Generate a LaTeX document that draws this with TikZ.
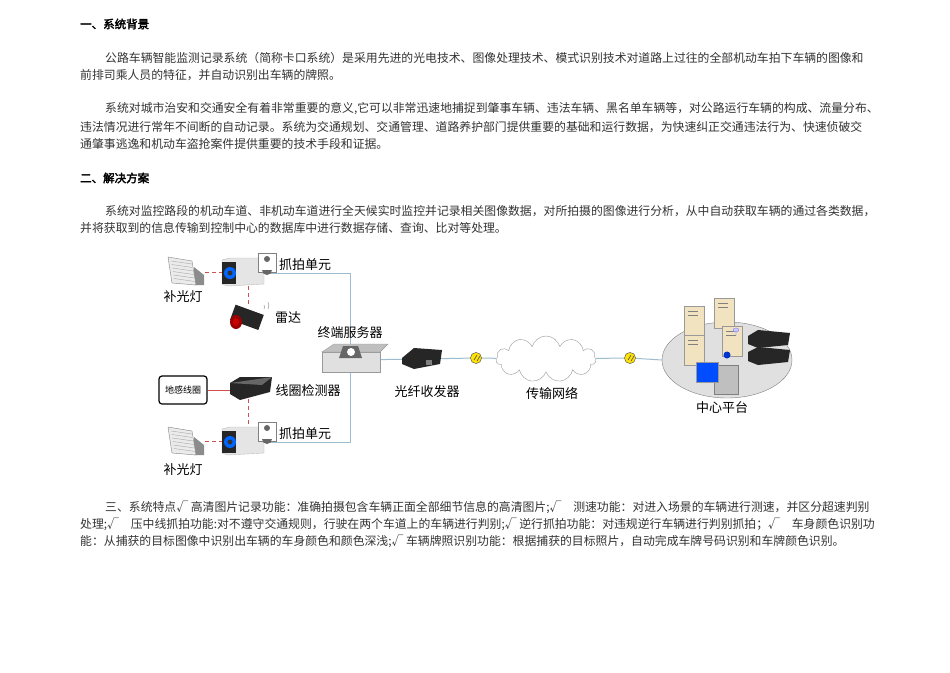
\documentclass[tikz,border=0pt]{standalone}
\usepackage{fontspec}
\setmainfont{Liberation Sans}
\newfontfamily\cjk[AutoFakeBold=2.5]{Noto Sans CJK SC}
\usetikzlibrary{shapes.symbols,shapes.geometric}
\definecolor{txt}{HTML}{333333}
\definecolor{wire}{HTML}{9DBCD0}
\definecolor{rdash}{HTML}{D05050}
\begin{document}
\begin{tikzpicture}[x=1pt,y=-1pt,
  para/.style={anchor=west,inner sep=0pt,font=\cjk\fontsize{11.85}{13}\selectfont,text=txt},
  head/.style={anchor=west,inner sep=0pt,font=\cjk\bfseries\fontsize{11.5}{13}\selectfont,text=black},
  lab/.style={inner sep=0pt,font=\cjk\fontsize{13}{15}\selectfont,text=black},
  bluew/.style={draw=wire,line width=1pt},
  redd/.style={draw=rdash,dashed,line width=1pt,dash pattern=on 4pt off 3pt},
  yel/.style={circle,fill=yellow!85!orange,draw=black!60,minimum size=11pt,inner sep=0pt}]
\useasboundingbox (0,0) rectangle (950,672);
\fill[white] (0,0) rectangle (950,672);
% text
\node[head] (h1) at (80,24) {一、系统背景};
\node[para] (p1a) at (105,58) {公路车辆智能监测记录系统（简称卡口系统）是采用先进的光电技术、图像处理技术、模式识别技术对道路上过往的全部机动车拍下车辆的图像和};
\node[para] (p1b) at (80,75) {前排司乘人员的特征，并自动识别出车辆的牌照。};
\node[para] (p2a) at (105,109) {系统对城市治安和交通安全有着非常重要的意义,它可以非常迅速地捕捉到肇事车辆、违法车辆、黑名单车辆等，对公路运行车辆的构成、流量分布、};
\node[para] (p2b) at (80,127) {违法情况进行常年不间断的自动记录。系统为交通规划、交通管理、道路养护部门提供重要的基础和运行数据，为快速纠正交通违法行为、快速侦破交};
\node[para] (p2c) at (80,144) {通肇事逃逸和机动车盗抢案件提供重要的技术手段和证据。};
\node[head] (h2) at (80,178) {二、解决方案};
\node[para] (p3a) at (105,211) {系统对监控路段的机动车道、非机动车道进行全天候实时监控并记录相关图像数据，对所拍摄的图像进行分析，从中自动获取车辆的通过各类数据，};
\node[para] (p3b) at (80,228) {并将获取到的信息传输到控制中心的数据库中进行数据存储、查询、比对等处理。};
\node[para] (p4a) at (105,507) {三、系统特点√ 高清图片记录功能：准确拍摄包含车辆正面全部细节信息的高清图片;√\quad 测速功能：对进入场景的车辆进行测速，并区分超速判别};
\node[para] (p4b) at (80,524) {处理;√\quad 压中线抓拍功能:对不遵守交通规则，行驶在两个车道上的车辆进行判别;√ 逆行抓拍功能：对违规逆行车辆进行判别抓拍；√\quad 车身颜色识别功};
\node[para] (p4c) at (80,541) {能：从捕获的目标图像中识别出车辆的车身颜色和颜色深浅;√ 车辆牌照识别功能：根据捕获的目标照片，自动完成车牌号码识别和车牌颜色识别。};
% ---- diagram
\node[inner sep=0,minimum width=58pt,minimum height=24pt] (srv) at (351,360) {};
\node[inner sep=0,minimum width=38pt,minimum height=18pt] (fib) at (421,359) {};
\node[yel] (y1) at (476,358) {};
\node[cloud,cloud puffs=11,aspect=2.4,draw=black!40,fill=white,minimum width=100pt,minimum height=46pt] (cloud) at (546,359) {};
\node[yel] (y2) at (630,358) {};
\node[ellipse,draw=black!50,fill=black!12,minimum width=130pt,minimum height=76pt] (plat) at (727,360) {};
% wires
\draw[bluew] (262,273) -| (350,348);
\draw[bluew] (262,442) -| (350,372);
\draw[bluew] (srv) -- (fib) -- (y1) -- (cloud) -- (y2) -- (plat.west);
\node[yel] at (476,358) {};\node[yel] at (630,358) {};
\foreach \c in {y1,y2}{\draw[black!70,line width=.6pt] ([shift={(-2,2)}]\c.center) -- ++(3,-5) ([shift={(1,3)}]\c.center) -- ++(3,-5);}
% red links
\draw[redd] (205,272) -- (224,272);
\draw[redd] (205,441) -- (224,441);
\draw[redd] (248,286) -- (248,305);
\draw[redd] (248,399) -- (248,428);
\node[draw=black,line width=1.2pt,rounded corners=3pt,minimum width=48pt,minimum height=28pt,inner sep=0,font=\cjk\fontsize{9}{10}\selectfont] (loop) at (183,390) {地感线圈};
\draw[rdash,line width=1pt] (loop.east) -- (230,390);
% lamps
\foreach \yy in {255,425}{
  \begin{scope}[shift={(168,\yy)}]
  \fill[black!45] (26,12) -- (36,20) -- (36,30) -- (26,30) -- cycle;
  \draw[black!50,fill=black!8] (0,2) -- (24,6) -- (28,30) -- (4,28) -- cycle;
  \foreach \i in {0,...,5} \draw[black!35] (3+0.6*\i,6+3.5*\i) -- (24+0.6*\i,9+3.5*\i);
  \end{scope}}
% cameras
\foreach \yy in {258,427}{
  \begin{scope}[shift={(222,\yy)}]
  \fill[black!10,draw=black!25] (0,2) -- (8,0) -- (42,0) -- (42,26) -- (6,28) -- (0,26) -- cycle;
  \fill[black!85] (0,4) rectangle (14,26);
  \fill[blue!60!cyan] (8,15) circle (6);
  \fill[black!80] (8,15) circle (2.5);
  \draw[black!50,fill=white] (36,-5) rectangle (54,14);
  \fill[black!60] (45,1) circle (3) (40,12) arc (180:0:5 and 5) -- cycle;
  \end{scope}}
% radar
\begin{scope}[shift={(228,305)}]
  \fill[black!85,rotate around={-20:(18,12)}] (4,4) rectangle (34,20);
  \fill[red!60!black] (8,17) ellipse (6 and 7);
  \fill[red!80!black] (8,17) ellipse (3 and 4);
  \draw[black!50] (36,0) arc (-30:30:4) (40,-3) arc (-30:30:7);
\end{scope}
% detector
\fill[black!85] (230,383) -- (240,377) -- (272,377) -- (270,392) -- (240,400) -- (230,394) -- cycle;
\fill[black!60] (230,383) -- (262,385) -- (272,377);
% server
\fill[black!12,draw=black!40] (322,352) rectangle (380,372);
\fill[black!25,draw=black!40] (322,352) -- (334,344) -- (388,344) -- (380,352) -- cycle;
\fill[black!60] (343,346) -- (358,346) -- (362,358) -- (339,358) -- cycle;
\fill[white] (351,352) circle (4);
% fiber
\fill[black!85] (402,358) -- (414,348) -- (442,350) -- (440,364) -- (414,369) -- (402,364) -- cycle;
\fill[black!50] (426,360) rectangle (432,365);
% platform
\foreach \px/\py in {684/306,714/298,684/335,722/326}{
  \fill[yellow!25!brown!30,draw=black!40] (\px,\py) rectangle ++(20,30);
  \draw[black!50] (\px+4,\py+5) -- ++(10,0) (\px+4,\py+9) -- ++(10,0);}
\fill[blue!20,draw=blue!50] (736,330) ellipse (3 and 2) -- ++(0,6);
\fill[black!85] (748,336) -- (758,330) -- (790,333) -- (788,345) -- (758,348) -- (748,344) -- cycle;
\fill[black!85] (748,352) -- (758,347) -- (790,350) -- (788,362) -- (758,365) -- (748,361) -- cycle;
\fill[black!25,draw=black!50] (714,365) rectangle (738,394);
\fill[blue!70!cyan,draw=black!40] (696,362) rectangle (718,382);
\fill[blue!80!green] (727,355) circle (3.5);
% labels
\node[lab] (l1) at (183,297) {补光灯};
\node[lab] (l2) at (305,265) {抓拍单元};
\node[lab] (l3) at (288,318) {雷达};
\node[lab] (l4) at (350,333) {终端服务器};
\node[lab] (l5) at (308,391) {线圈检测器};
\node[lab] (l6) at (305,434) {抓拍单元};
\node[lab] (l7) at (183,470) {补光灯};
\node[lab] (l8) at (427,392) {光纤收发器};
\node[lab] (l9) at (552,393) {传输网络};
\node[lab] (l10) at (722,408) {中心平台};
\end{tikzpicture}
\end{document}
